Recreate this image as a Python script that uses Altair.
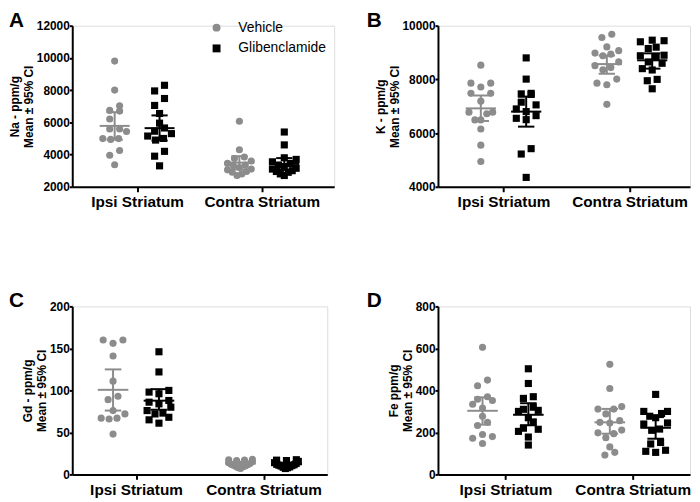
import altair as alt
import numpy as np
import pandas as pd

REGIONS = ["Ipsi Striatum", "Contra Striatum"]
GROUPS = ["Vehicle", "Glibenclamide"]
COLORS = ["#8c8c8c", "#000000"]
SHAPES = ["circle", "square"]

# ---- Panel A: Na (ppm/g) ----
na_ipsi_veh = [9800, 8000, 7030, 6740, 6700, 6210, 5590, 5590, 5430, 4990, 4940, 4990, 4250, 3960, 3370]
na_ipsi_gli = [8300, 7950, 7480, 7050, 6550, 5950, 5650, 5450, 5300, 5150, 5000, 4900, 4200, 3900, 3300]
na_con_veh = [6070, 4300, 3850, 3750, 3600, 3450, 3350, 3300, 3200, 3100, 3050, 2950, 2900, 2800, 2700]
na_con_gli = [5400, 4600, 3800, 3700, 3550, 3450, 3350, 3250, 3150, 3100, 3000, 2950, 2900, 2800, 2700]
na_mean = [5780, 5640, 3500, 3420]
na_lo = [4920, 4870, 3080, 3050]
na_hi = [6630, 6430, 3900, 3780]

# ---- Panel B: K (ppm/g) ----
k_ipsi_veh = [8530, 7860, 7860, 7715, 7480, 7480, 7190, 6780, 6780, 6720, 6490, 6490, 6150, 5550, 4940]
k_ipsi_gli = [8800, 8010, 7480, 7460, 7440, 7150, 7050, 6900, 6800, 6650, 6550, 6500, 5420, 5220, 4350]
k_con_veh = [9680, 9560, 9210, 9070, 8980, 8940, 8880, 8650, 8510, 8440, 8360, 8010, 7860, 7800, 7070]
k_con_gli = [9460, 9440, 9400, 9200, 9150, 8900, 8880, 8850, 8650, 8600, 8400, 8350, 8000, 7950, 7650]
k_mean = [6920, 6800, 8570, 8710]
k_lo = [6450, 6240, 8210, 8400]
k_hi = [7400, 7360, 8890, 8970]

# ---- Panel C: Gd (ppm/g) ----
gd_ipsi_veh = [160, 156, 160, 141, 111, 93, 89, 76, 72, 67, 67, 66, 48]
gd_ipsi_gli = [146, 122, 100, 98, 96, 88, 86, 84, 80, 76, 73, 72, 68, 65, 61]
gd_con_veh = [18, 17.5, 17, 16.5, 15.5, 14, 13, 12, 11.5, 11, 10, 9.5, 9, 8, 7]
gd_con_gli = [17.5, 17, 16.5, 15.5, 14, 13, 12, 11.5, 11, 10.5, 10, 9, 8.5, 8, 7]
gd_mean = [100.7, 87.8, 12.9, 12.0]
gd_lo = [76, 77, 11.0, 10.5]
gd_hi = [125, 101.5, 14.8, 13.7]

# ---- Panel D: Fe (ppm/g) ----
fe_ipsi_veh = [605, 449, 422, 370, 358, 352, 334, 316, 277, 248, 233, 190, 180, 172, 147]
fe_ipsi_gli = [503, 433, 370, 362, 320, 310, 305, 300, 270, 250, 220, 215, 205, 178, 140]
fe_con_veh = [524, 409, 323, 311, 311, 288, 256, 248, 245, 211, 198, 194, 175, 131, 105, 92]
fe_con_gli = [381, 300, 300, 290, 277, 270, 245, 240, 216, 210, 152, 145, 115, 110, 105]
fe_mean = [303, 284, 248, 222]
fe_lo = [237, 234, 194, 170]
fe_hi = [367, 339, 312, 273]

FONT = "Liberation Sans"
GROUP_OFF = 0.18
MEAN_HALF = 0.12
CAP_HALF = 0.065
ROWH = 8.0      # px height of a swarm row
SPACE = 10.0    # px spacing between points in a row
MAXW = 24.0     # px max spread of point centres in a row

color_scale = alt.Scale(domain=GROUPS, range=COLORS)
shape_scale = alt.Scale(domain=GROUPS, range=SHAPES)


def swarm(values, ppu):
    """Prism-like column scatter: bin into rows, spread each row symmetrically."""
    vals = np.asarray(values, dtype=float) * ppu
    order = list(np.argsort(vals, kind="stable"))
    out = np.zeros(len(vals))
    rows = []
    cur = []
    for i in order:
        if cur and vals[i] - vals[cur[0]] >= ROWH:
            rows.append(cur)
            cur = []
        cur.append(i)
    if cur:
        rows.append(cur)
    for row in rows:
        n = len(row)
        if n == 1:
            continue
        sp = min(SPACE, MAXW / (n - 1))
        if n % 2:
            slots = [0] + [s * k for k in range(1, n // 2 + 1) for s in (-1, 1)]
        else:
            slots = [s * (k - 0.5) for k in range(1, n // 2 + 1) for s in (-1, 1)]
        for idx, slot in zip(row, slots):
            out[idx] = slot * sp
    return out


def panel(letter, letter_dx, ytitle, ydom, yticks, xdom, width, height, series, means, los, his):
    ppu_y = height / (ydom[1] - ydom[0])
    ppu_x = width / (xdom[1] - xdom[0])
    rows = []
    k = 0
    for r in range(2):
        for g in range(2):
            vals = series[k]
            offs = swarm(vals, ppu_y) / ppu_x
            base = r + (-GROUP_OFF if g == 0 else GROUP_OFF)
            for v, o in zip(vals, offs):
                rows.append({"region": REGIONS[r], "group": GROUPS[g], "value": v, "x": base + o})
            k += 1
    pts = pd.DataFrame(rows)
    summ = pd.DataFrame({
        "group": [GROUPS[0], GROUPS[1], GROUPS[0], GROUPS[1]],
        "xc": [0 - GROUP_OFF, 0 + GROUP_OFF, 1 - GROUP_OFF, 1 + GROUP_OFF],
        "mean": means, "lo": los, "hi": his,
    })

    xscale = alt.Scale(domain=xdom, nice=False, zero=False)
    yscale = alt.Scale(domain=ydom, nice=False, zero=False)
    xaxis = alt.Axis(values=[0, 1], title=None, grid=False,
                     labelExpr="datum.value == 0 ? 'Ipsi Striatum' : 'Contra Striatum'",
                     labelFontSize=15.5, labelFontWeight="bold", labelColor="black", labelFont=FONT,
                     labelPadding=3, tickSize=5, tickWidth=2, tickColor="black",
                     domainColor="black", domainWidth=2, labelAngle=0)
    yaxis = alt.Axis(values=yticks, title=ytitle, grid=False, format="d",
                     labelFontSize=12, labelFontWeight="bold", labelColor="black", labelFont=FONT,
                     labelPadding=0, tickSize=3, tickWidth=2, tickColor="black",
                     domainColor="black", domainWidth=2,
                     titleFontSize=12, titleFontWeight="bold", titleColor="black", titleFont=FONT,
                     titleLineHeight=14, titlePadding=1)

    legend = alt.Legend(title=None, orient="none", legendX=139, legendY=-5,
                        labelFontSize=14, labelFont=FONT, labelColor="black",
                        symbolSize=64, labelOffset=15, rowPadding=7, symbolStrokeWidth=0)

    points = alt.Chart(pts).mark_point(filled=True, size=52, opacity=1, strokeWidth=0).encode(
        x=alt.X("x:Q", scale=xscale, axis=xaxis),
        y=alt.Y("value:Q", scale=yscale, axis=yaxis),
        color=alt.Color("group:N", scale=color_scale, legend=legend),
        shape=alt.Shape("group:N", scale=shape_scale, legend=legend),
    )
    base = alt.Chart(summ)
    col = alt.Color("group:N", scale=color_scale, legend=None)
    mean_rule = base.transform_calculate(
        xa=f"datum.xc - {MEAN_HALF}", xb=f"datum.xc + {MEAN_HALF}"
    ).mark_rule(strokeWidth=2).encode(
        x=alt.X("xa:Q", scale=xscale, axis=xaxis), x2="xb:Q",
        y=alt.Y("mean:Q", scale=yscale, axis=yaxis), color=col)
    ci_rule = base.mark_rule(strokeWidth=2).encode(
        x=alt.X("xc:Q", scale=xscale, axis=xaxis),
        y=alt.Y("lo:Q", scale=yscale, axis=yaxis), y2="hi:Q", color=col)
    cap_lo = base.transform_calculate(
        xa=f"datum.xc - {CAP_HALF}", xb=f"datum.xc + {CAP_HALF}"
    ).mark_rule(strokeWidth=2).encode(
        x=alt.X("xa:Q", scale=xscale, axis=xaxis), x2="xb:Q",
        y=alt.Y("lo:Q", scale=yscale, axis=yaxis), color=col)
    cap_hi = base.transform_calculate(
        xa=f"datum.xc - {CAP_HALF}", xb=f"datum.xc + {CAP_HALF}"
    ).mark_rule(strokeWidth=2).encode(
        x=alt.X("xa:Q", scale=xscale, axis=xaxis), x2="xb:Q",
        y=alt.Y("hi:Q", scale=yscale, axis=yaxis), color=col)
    lab = alt.Chart(pd.DataFrame({"t": [letter]})).mark_text(
        fontSize=21, fontWeight="bold", font=FONT, align="left", baseline="top", color="black"
    ).encode(text="t:N", x=alt.value(letter_dx), y=alt.value(-16))

    return alt.layer(points, mean_rule, ci_rule, cap_lo, cap_hi, lab).properties(width=width, height=height)


pA = panel("A", -64, ["Na - ppm/g", "Mean ± 95% CI"], [2000, 12000], list(range(2000, 12001, 2000)),
           [-0.52, 1.58], 265, 163, [na_ipsi_veh, na_ipsi_gli, na_con_veh, na_con_gli], na_mean, na_lo, na_hi)
pB = panel("B", -72, ["K - ppm/g", "Mean ± 95% CI"], [4000, 10000], [4000, 6000, 8000, 10000],
           [-0.52, 1.48], 255, 163, [k_ipsi_veh, k_ipsi_gli, k_con_veh, k_con_gli], k_mean, k_lo, k_hi)
pC = panel("C", -64, ["Gd - ppm/g", "Mean ± 95% CI"], [0, 200], [0, 50, 100, 150, 200],
           [-0.5, 1.5], 258, 170, [gd_ipsi_veh, gd_ipsi_gli, gd_con_veh, gd_con_gli], gd_mean, gd_lo, gd_hi)
pD = panel("D", -72, ["Fe ppm/g", "Mean ± 95% CI"], [0, 800], [0, 200, 400, 600, 800],
           [-0.53, 1.45], 255, 170, [fe_ipsi_veh, fe_ipsi_gli, fe_con_veh, fe_con_gli], fe_mean, fe_lo, fe_hi)

row1 = alt.hconcat(pA, pB, spacing=31)
row2 = alt.hconcat(pC, pD, spacing=38)
chart = alt.vconcat(row1, row2, spacing=80).properties(
    padding={"left": 0, "top": -2, "right": 0, "bottom": 0}
).configure_view(stroke=None).configure(font=FONT)

chart.save("out.html", embed_options={"renderer": "svg", "actions": False})
